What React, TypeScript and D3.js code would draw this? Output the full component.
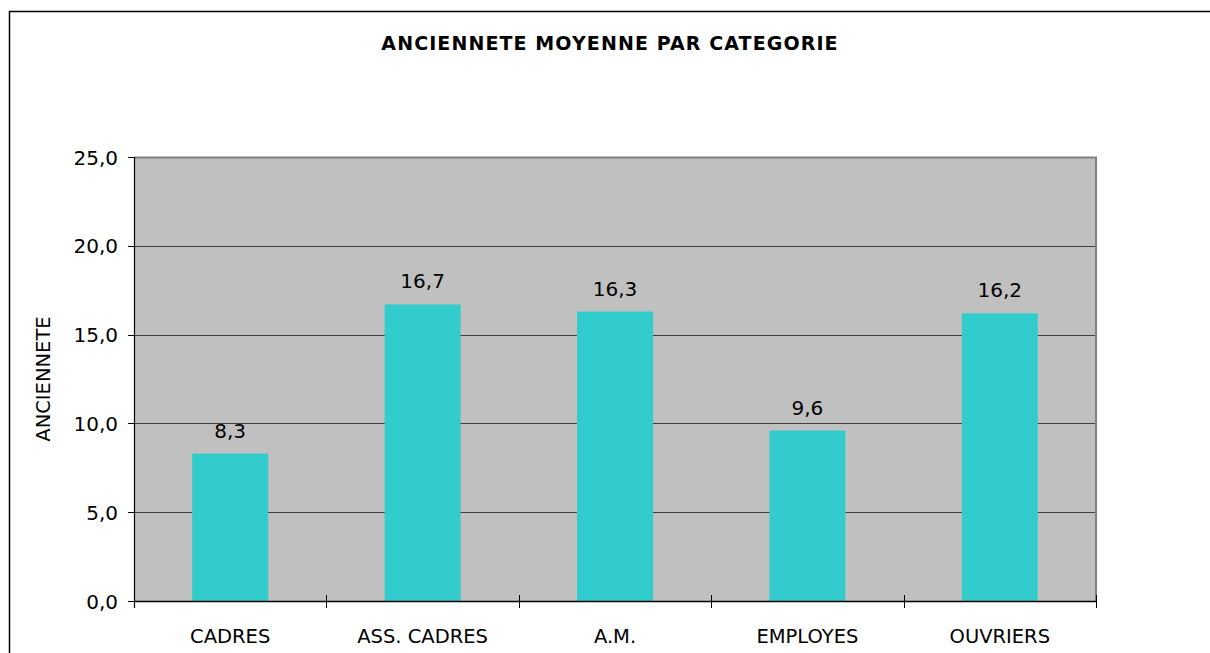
import React from 'react';
import * as d3 from 'd3';

// données du graphique
const categories = ['CADRES', 'ASS. CADRES', 'A.M.', 'EMPLOYES', 'OUVRIERS'];
const anciennete = [8.3, 16.7, 16.3, 9.6, 16.2];
const yTicks = [0, 5, 10, 15, 20, 25];
const titre = 'ANCIENNETE MOYENNE PAR CATEGORIE';
const titreAxeY = 'ANCIENNETE';

const W = 1210;
const H = 653;
const plot = { left: 134, right: 1096, top: 157, bottom: 601 };
const font = '"DejaVu Sans", Verdana, sans-serif';
const fmt = (v: number) => v.toFixed(1).replace('.', ',');

const App = () => {
  const x = d3.scaleBand<string>()
    .domain(categories)
    .range([plot.left, plot.right])
    .paddingInner(0.605)
    .paddingOuter(0.3025);

  const y = d3.scaleLinear()
    .domain([0, 25])
    .range([plot.bottom, plot.top]);

  const band = (plot.right - plot.left) / categories.length;
  const bounds = d3.range(categories.length + 1).map(i => plot.left + i * band);

  return (
    <svg width={W} height={H} style={{ position: 'absolute', left: 0, top: 0, background: '#fff' }}>
      {/* cadre extérieur */}
      <line x1={9.5} y1={11} x2={9.5} y2={H} stroke="#000" strokeWidth={1.5} />
      <line x1={9} y1={11.5} x2={W} y2={11.5} stroke="#000" strokeWidth={1.5} />

      <text x={610} y={50} textAnchor="middle" fontFamily={font} fontWeight="bold"
        fontSize={19} letterSpacing={1.1}>{titre}</text>

      {/* zone de traçage */}
      <rect x={plot.left} y={plot.top} width={plot.right - plot.left} height={plot.bottom - plot.top}
        fill="#c0c0c0" />

      {yTicks.filter(t => t > 0 && t < 25).map(t => (
        <line key={t} x1={plot.left} x2={plot.right} y1={Math.round(y(t)) + 0.5} y2={Math.round(y(t)) + 0.5}
          stroke="#404040" strokeWidth={1} />
      ))}

      <line x1={plot.left} x2={plot.right + 1} y1={plot.top + 0.5} y2={plot.top + 0.5} stroke="#808080" strokeWidth={2} />
      <line x1={plot.right} x2={plot.right} y1={plot.top} y2={plot.bottom} stroke="#808080" strokeWidth={2} />

      {categories.map((c, i) => (
        <rect key={c} x={x(c)} y={y(anciennete[i])} width={x.bandwidth()}
          height={y(0) - y(anciennete[i])} fill="#33cccc" />
      ))}

      {/* axes */}
      <line x1={plot.left + 0.5} x2={plot.left + 0.5} y1={plot.top} y2={plot.bottom + 7} stroke="#000" strokeWidth={1.2} />
      <line x1={plot.left} x2={plot.right} y1={plot.bottom + 0.5} y2={plot.bottom + 0.5} stroke="#000" strokeWidth={1.5} />

      {yTicks.map(t => (
        <g key={t}>
          <line x1={plot.left - 6} x2={plot.left} y1={Math.round(y(t)) + 0.5} y2={Math.round(y(t)) + 0.5}
            stroke="#000" strokeWidth={1} />
          <text x={118} y={y(t) + 7.5} textAnchor="end" fontFamily={font} fontSize={20}>{fmt(t)}</text>
        </g>
      ))}

      {bounds.map((b, i) => (
        <line key={i} x1={Math.round(b) + 0.5} x2={Math.round(b) + 0.5} y1={plot.bottom - 6} y2={plot.bottom + 7}
          stroke="#000" strokeWidth={1} />
      ))}

      {categories.map(c => (
        <text key={c} x={x(c)! + x.bandwidth() / 2} y={643} textAnchor="middle"
          fontFamily={font} fontSize={19.5}>{c}</text>
      ))}

      {categories.map((c, i) => (
        <text key={c} x={x(c)! + x.bandwidth() / 2} y={y(anciennete[i]) - 16} textAnchor="middle"
          fontFamily={font} fontSize={20}>{fmt(anciennete[i])}</text>
      ))}

      <text transform={`translate(50, ${(plot.top + plot.bottom) / 2}) rotate(-90)`} textAnchor="middle"
        fontFamily={font} fontSize={19.5}>{titreAxeY}</text>
    </svg>
  );
};

export default App;
